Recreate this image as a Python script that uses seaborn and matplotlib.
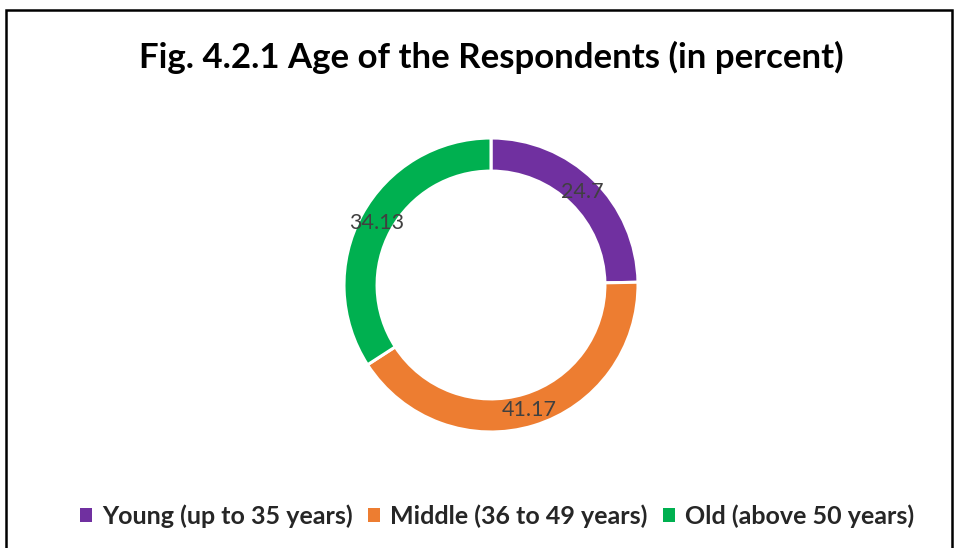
import matplotlib
matplotlib.use("Agg")
import matplotlib.pyplot as plt
import matplotlib.patches as mpatches
import seaborn as sns
import numpy as np

categories = ["Young (up to 35 years)", "Middle (36 to 49 years)", "Old (above 50 years)"]
values = [24.7, 41.17, 34.13]
value_labels = ["24.7", "41.17", "34.13"]
colors = ["#7030A0", "#ED7D31", "#00B050"]
title = "Fig. 4.2.1 Age of the Respondents (in percent)"

sns.set_theme(style="white")
plt.rcParams['font.family'] = ['Lato', 'DejaVu Sans']

W, H = 958, 548
fig = plt.figure(figsize=(W/100, H/100), dpi=100)

# donut axes: center (491,285), outer radius 147 px
cx, cy, R = 491, 285, 147
ax = fig.add_axes([(cx - R) / W, 1 - (cy + R) / H, 2 * R / W, 2 * R / H])
ring = 0.225
wedges, _ = ax.pie(values, colors=colors, startangle=90, counterclock=False,
                   radius=1.0, wedgeprops=dict(width=ring, edgecolor="white", linewidth=2.2))
ax.set_aspect("equal")
ax.set_xlim(-1, 1)
ax.set_ylim(-1, 1)

# labels at ring middle
cum = np.cumsum([0] + values)
total = sum(values)
rmid = 1 - ring / 2
for i, lab in enumerate(value_labels):
    mid = (cum[i] + cum[i + 1]) / 2 / total * 360
    th = np.deg2rad(90 - mid)
    ax.text(rmid * np.cos(th), rmid * np.sin(th), lab, ha="center", va="center",
            fontsize=15.5, color="#404040")

fig.text(491 / W, 1 - 57 / H, title, ha="center", va="center",
         fontsize=25, fontweight="bold", color="black")

handles = [mpatches.Patch(facecolor=c, edgecolor="none") for c in colors]
leg = fig.legend(handles, categories, loc="center", bbox_to_anchor=(497 / W, 1 - 516 / H),
                 ncol=3, frameon=False, handlelength=0.5, handleheight=0.5,
                 handletextpad=0.4, columnspacing=0.6,
                 prop=dict(size=18, weight="bold"))

# outer border
fig.patches.append(mpatches.Rectangle((6 / W, -0.05), (952 - 6) / W, 1 - 10 / H + 0.05,
                                      transform=fig.transFigure, fill=False,
                                      edgecolor="black", linewidth=1.8))

fig.savefig("out.png", dpi=100)
